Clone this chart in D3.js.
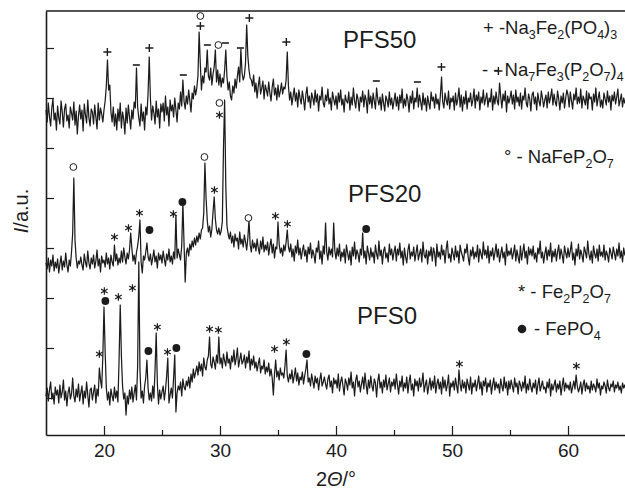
<!DOCTYPE html>
<html>
<head>
<meta charset="utf-8">
<script src="https://cdn.jsdelivr.net/npm/d3@7"></script>
<style>
  body { margin: 0; background: #fff; }
  svg { display: block; font-family: "Liberation Sans", Arial, sans-serif; }
</style>
</head>
<body>
<script>
// scan: 2theta from 15 to 65 deg, step 0.1 deg (values are stacked a.u.)
const scanStart = 15, scanStep = 0.1;

const pfs0 = [
  52,60,47,58,66,49,55,44,61,53,
  58,45,63,50,56,68,48,57,42,55,
  61,49,54,70,52,46,59,51,64,47,
  55,62,44,57,50,66,53,41,58,60,
  48,56,63,45,59,52,80,68,60,92,
  141,96,60,48,56,43,59,52,47,61,
  50,57,46,88,143,92,62,49,55,33,
  52,44,58,49,61,46,55,63,48,82,
  186,78,50,57,45,62,70,88,60,48,
  55,47,62,50,78,115,64,44,58,49,
  56,62,48,58,72,90,45,53,60,50,
  70,93,36,55,62,58,66,52,69,61,
  58,67,62,71,60,74,66,79,70,76,
  82,73,86,77,84,72,90,81,78,88,
  92,111,84,80,91,86,79,93,85,111,
  84,90,80,94,87,82,96,85,89,79,
  92,86,98,83,90,100,81,88,95,84,
  87,93,80,91,85,97,78,89,83,92,
  80,86,77,84,90,75,82,79,88,74,
  81,76,85,72,79,70,53,74,88,71,
  77,68,80,73,75,70,82,98,72,66,
  74,69,78,65,72,80,67,75,63,71,
  68,76,64,72,79,88,66,70,62,74,
  67,60,72,65,70,58,68,75,62,66,
  71,64,59,69,73,61,67,55,70,64,
  68,60,74,57,66,71,62,53,69,65,
  58,70,63,76,60,66,52,68,73,61,
  67,56,64,71,59,75,63,54,68,60,
  72,62,57,69,65,51,67,74,60,66,
  55,68,61,73,58,64,70,56,66,62,
  69,59,74,63,54,67,61,72,57,65,
  60,71,55,66,73,58,64,52,69,62,
  67,57,70,61,65,75,56,63,68,54,
  62,70,58,67,60,72,55,64,69,59,
  66,54,71,60,68,57,63,73,52,65,
  61,67,58,70,62,55,78,64,57,68,
  60,66,55,69,63,58,71,54,65,61,
  68,57,64,72,59,66,53,67,62,70,
  56,65,61,68,54,63,70,58,66,60,
  64,55,69,62,57,71,60,66,53,67,
  59,68,62,56,70,61,65,54,67,63,
  57,66,60,72,55,64,58,69,61,56,
  65,60,68,54,63,70,57,62,67,59,
  61,55,66,60,69,52,64,58,63,68,
  56,64,59,67,53,62,70,57,65,60,
  63,58,66,55,61,67,59,73,62,56,
  60,66,54,63,68,57,65,59,62,55,
  67,58,64,61,56,69,60,65,53,62,
  59,66,62,55,68,60,57,64,61,67,
  56,63,60,66,58,62,55,65,60,63,
  58
];

const pfs20 = [
  185,179,190,176,188,182,193,177,186,180,
  189,175,184,192,178,187,181,195,183,176,
  188,182,196,215,270,208,190,180,187,184,
  191,183,178,194,186,181,197,185,179,190,
  184,193,180,187,198,182,189,176,192,185,
  188,181,195,184,190,179,193,186,182,203,
  187,194,183,190,185,197,186,200,191,184,
  195,189,198,215,200,187,193,184,196,202,
  212,228,186,175,192,188,196,205,191,187,
  194,183,190,198,186,192,180,195,188,193,
  185,197,189,182,194,188,199,186,192,184,
  196,189,233,190,199,193,188,202,245,204,
  166,195,200,192,204,198,207,201,210,203,
  212,206,215,209,218,220,235,285,250,228,
  216,222,211,219,236,251,229,218,214,220,
  213,217,226,300,348,262,222,214,209,216,
  205,212,201,214,207,210,199,216,204,209,
  201,213,206,198,210,228,203,196,208,200,
  205,197,209,200,194,207,199,211,196,203,
  198,206,193,202,209,195,204,190,201,199,
  226,204,195,200,192,203,197,206,218,201,
  196,204,191,199,187,202,195,208,193,200,
  189,197,203,192,198,186,201,194,205,190,
  198,193,185,200,196,207,189,197,184,202,
  194,225,196,188,201,193,199,191,225,197,
  189,200,192,204,187,196,191,199,185,203,
  195,188,197,183,201,192,206,189,198,194,
  186,199,193,215,190,197,184,202,195,188,
  200,191,196,185,203,194,189,207,192,198,
  184,197,201,190,195,186,204,193,199,188,
  196,202,187,199,193,205,190,197,183,200,
  191,185,198,204,189,196,192,201,187,195,
  203,188,194,199,186,206,193,190,198,184,
  197,192,201,187,200,195,182,204,191,196,
  189,203,193,198,185,199,207,190,194,186,
  200,194,188,202,191,197,185,203,196,192,
  187,199,195,204,190,183,198,192,201,189,
  196,191,203,186,199,194,189,206,193,198,
  190,202,185,197,192,200,188,195,204,191,
  199,186,194,201,190,196,183,204,192,197,
  193,200,189,195,203,187,198,191,185,202,
  188,196,204,190,197,184,201,193,199,192,
  202,189,195,186,200,194,207,190,196,185,
  194,201,188,198,192,205,186,197,191,199,
  187,196,203,189,199,193,185,202,195,190,
  200,191,197,206,188,195,183,199,192,204,
  189,198,193,186,201,196,190,207,194,188,
  197,185,202,194,190,199,187,203,192,196,
  191,203,188,197,193,186,200,195,189,201,
  195,188,199,192,205,190,197,186,200,193,
  196
];

const pfs50 = [
  338,326,345,331,322,340,349,328,335,318,
  342,330,324,347,336,321,339,344,327,333,
  320,341,335,328,346,323,337,314,332,343,
  329,338,317,344,333,325,348,330,322,339,
  336,324,343,331,319,345,328,340,334,326,
  338,347,362,388,358,363,336,326,341,322,
  334,318,339,327,345,320,336,329,314,340,
  325,343,331,319,338,329,346,340,380,341,
  330,322,344,327,336,318,341,333,355,391,
  350,328,342,335,324,347,331,339,320,344,
  336,345,327,352,333,341,322,348,337,343,
  331,350,338,326,345,339,356,342,368,347,
  339,352,344,358,347,336,355,349,362,353,
  360,372,416,385,358,372,365,380,376,398,
  372,368,380,363,374,381,398,366,378,363,
  374,361,370,365,378,398,371,358,366,352,
  348,362,355,369,360,372,381,366,399,375,
  368,372,385,423,392,378,370,368,362,373,
  356,365,350,362,371,354,360,367,349,363,
  358,352,366,355,347,361,369,353,360,348,
  363,351,357,365,354,361,359,368,396,362,
  348,356,343,352,360,347,355,341,358,350,
  344,357,349,338,353,361,346,352,340,355,
  350,343,358,346,354,337,352,348,361,345,
  341,353,347,359,344,350,338,356,349,343,
  352,339,355,346,358,343,349,336,353,347,
  345,356,338,351,343,360,347,340,354,349,
  337,351,346,357,341,353,348,335,358,344,
  352,340,355,347,339,360,349,343,351,338,
  354,345,337,352,348,341,356,343,350,339,
  347,355,342,351,338,353,345,359,340,349,
  342,354,348,336,352,345,357,339,350,346,
  360,341,353,346,338,355,343,350,337,352,
  345,339,356,347,351,340,354,344,349,338,
  353,371,346,340,355,348,343,357,339,350,
  346,352,338,355,343,349,360,341,353,337,
  351,344,357,339,350,346,355,342,348,359,
  340,353,347,356,338,351,345,358,343,349,
  355,341,350,346,359,338,352,344,356,347,
  343,365,351,340,354,347,357,336,352,345,
  350,357,344,353,339,358,346,351,342,355,
  339,352,348,360,345,341,354,349,337,353,
  356,344,351,338,355,347,342,357,350,341,
  348,353,340,356,345,351,359,343,354,346,
  342,357,349,338,352,345,355,340,350,358,
  353,341,356,347,339,354,348,360,344,351,
  345,359,340,352,348,343,357,339,355,349,
  351,338,354,346,360,342,350,356,341,348,
  340,355,349,343,357,346,352,338,353,347,
  356,344,351,359,342,348,354,341,350,345,
  349
];

// phase markers: [2theta, a.u., symbol]  + Na3Fe2(PO4)3, - Na7Fe3(P2O7)4, o NaFeP2O7, * Fe2P2O7, • FePO4
const markers50 = [
  [20.29, 396, "+"], [22.79, 383, "-"], [23.91, 400, "+"], [26.84, 373, "-"],
  [28.31, 432, "o"], [28.31, 422, "+"], [28.91, 403, "-"], [29.86, 403, "o"],
  [30.47, 405, "-"], [31.76, 400, "-"], [32.53, 430, "+"], [35.72, 406, "+"],
  [43.48, 367, "-"], [47.02, 366, "-"], [49.09, 381, "+"], [54.0, 377, "+"]
];
const markers20 = [
  [17.36, 281, "o"], [20.9, 211, "*"], [22.11, 220, "*"], [23.06, 235, "*"],
  [23.92, 218, "•"], [25.98, 234, "*"], [26.76, 246, "•"], [28.66, 291, "o"],
  [29.52, 258, "*"], [29.95, 345, "o"], [29.95, 333, "*"], [32.45, 230, "o"],
  [34.78, 232, "*"], [35.81, 224, "*"], [42.6, 219, "•"]
];
const markers0 = [
  [19.6, 94, "*"], [20.03, 157, "*"], [20.12, 147, "•"], [21.24, 151, "*"],
  [22.45, 160, "*"], [23.83, 97, "•"], [24.6, 121, "*"], [25.47, 96, "*"],
  [26.24, 100, "•"], [29.1, 119, "*"], [29.86, 118, "*"], [34.7, 99, "*"],
  [35.72, 106, "*"], [37.45, 94, "•"], [50.64, 84, "*"], [60.72, 82, "*"]
];

const sampleNames = ["PFS0", "PFS20", "PFS50"];
const legendLabels = ["+ -Na_3Fe_2(PO_4)_3", "- - Na_7Fe_3(P_2O_7)_4", "° - NaFeP_2O_7", "* - Fe_2P_2O_7", "- FePO_4"];
const xTicks = [20, 30, 40, 50, 60];
const xMinorTicks = [25, 35, 45, 55];
const yTicks = [50, 100, 150, 200, 250, 300, 350, 400];

const ink = "#1c1c1c";
let margin = {top: 11, left: 46},
    width = 580,
    height = 424;

let svg = d3.select("body").append("svg")
    .attr("width", 625)
    .attr("height", 494);

let g = svg.append("g")
    .attr("transform", "translate(" + margin.left + "," + margin.top + ")");

let x = d3.scaleLinear().domain([15, 65]).range([0, width]);
let y = d3.scaleLinear().domain([13, 437]).range([height, 0]);

// frame top
g.append("line")
    .attr("x1", 0).attr("x2", width)
    .attr("y1", 0).attr("y2", 0)
    .style("stroke", ink).style("stroke-width", 1.5);

let xAxis = g.append("g")
    .attr("transform", "translate(0," + height + ")")
    .call(d3.axisBottom(x).tickValues(xTicks).tickSize(-9).tickSizeOuter(0).tickPadding(9));

g.append("g")
    .attr("transform", "translate(0," + height + ")")
    .call(d3.axisBottom(x).tickValues(xMinorTicks).tickSize(-5).tickFormat(""))
    .call(s => s.select(".domain").remove());

let yAxis = g.append("g")
    .call(d3.axisLeft(y).tickValues(yTicks).tickSize(-8).tickSizeOuter(0).tickFormat(""));

svg.selectAll(".domain").style("stroke", ink).style("stroke-width", 1.6);
svg.selectAll(".tick line").style("stroke", ink).style("stroke-width", 1.2);
xAxis.selectAll("text")
    .attr("font-size", 19)
    .attr("font-family", "Liberation Sans, Arial, sans-serif")
    .style("fill", ink);

// traces
let line = d3.line()
    .x(function(d, i){ return x(scanStart + i * scanStep); })
    .y(function(d){ return y(d); });

[pfs0, pfs20, pfs50].forEach(function(data){
    g.append("path")
        .datum(data)
        .attr("d", line)
        .style("fill", "none")
        .style("stroke", ink)
        .style("stroke-width", 1.25)
        .style("stroke-linejoin", "round");
});

// phase markers
function drawMarkers(list){
    list.forEach(function(m){
        let cx = x(m[0]), cy = y(m[1]);
        let mg = g.append("g").attr("transform", "translate(" + cx + "," + cy + ")");
        if (m[2] === "+") {
            mg.append("path").attr("d", "M-4,0H4M0,-4V4")
                .style("stroke", ink).style("stroke-width", 1.4);
        } else if (m[2] === "-") {
            mg.append("path").attr("d", "M-3.5,0H3.5")
                .style("stroke", ink).style("stroke-width", 1.6);
        } else if (m[2] === "o") {
            mg.append("circle").attr("r", 3.4)
                .style("fill", "#fff").style("stroke", ink).style("stroke-width", 1);
        } else if (m[2] === "•") {
            mg.append("circle").attr("r", 3.9).style("fill", ink);
        } else {
            mg.append("path").attr("d", "M0,-3.8V3.8M-3.3,-1.9L3.3,1.9M-3.3,1.9L3.3,-1.9")
                .style("stroke", ink).style("stroke-width", 1.2);
        }
    });
}
drawMarkers(markers0);
drawMarkers(markers20);
drawMarkers(markers50);

// text with _d subscripts
function richText(sel, str){
    let shifted = false;
    str.split(/(_\d)/).forEach(function(part){
        if (part === "") return;
        if (part[0] === "_") {
            sel.append("tspan").attr("font-size", 12.5).attr("dy", shifted ? 0 : 5).text(part[1]);
            shifted = true;
        } else {
            sel.append("tspan").attr("dy", shifted ? -5 : 0).text(part);
            shifted = false;
        }
    });
}

let labelPos = [[357, 324], [348, 202], [343, 48]];
sampleNames.forEach(function(name, i){
    svg.append("text")
        .attr("x", labelPos[i][0]).attr("y", labelPos[i][1])
        .attr("font-size", 24)
        .style("fill", ink)
        .text(name);
});

let legendPos = [[483, 34], [482, 76], [504, 163], [518, 298], [534, 335]];
legendLabels.forEach(function(lbl, i){
    let t = svg.append("text")
        .attr("x", legendPos[i][0]).attr("y", legendPos[i][1])
        .attr("font-size", 18.5)
        .style("fill", ink);
    richText(t, lbl);
});
svg.append("circle").attr("cx", 522).attr("cy", 329).attr("r", 4.3).style("fill", ink);

// axis titles
let xt = svg.append("text")
    .attr("x", 336).attr("y", 486)
    .attr("text-anchor", "middle")
    .attr("font-size", 20)
    .style("fill", ink);
xt.append("tspan").text("2");
xt.append("tspan").style("font-style", "italic").text("Θ");
xt.append("tspan").text("/°");

let yt = svg.append("text")
    .attr("transform", "translate(21,211) rotate(-90)")
    .attr("text-anchor", "middle")
    .attr("dy", "0.35em")
    .attr("font-size", 20)
    .style("fill", ink);
yt.append("tspan").style("font-style", "italic").text("I");
yt.append("tspan").text("/a.u.");
</script>
</body>
</html>
